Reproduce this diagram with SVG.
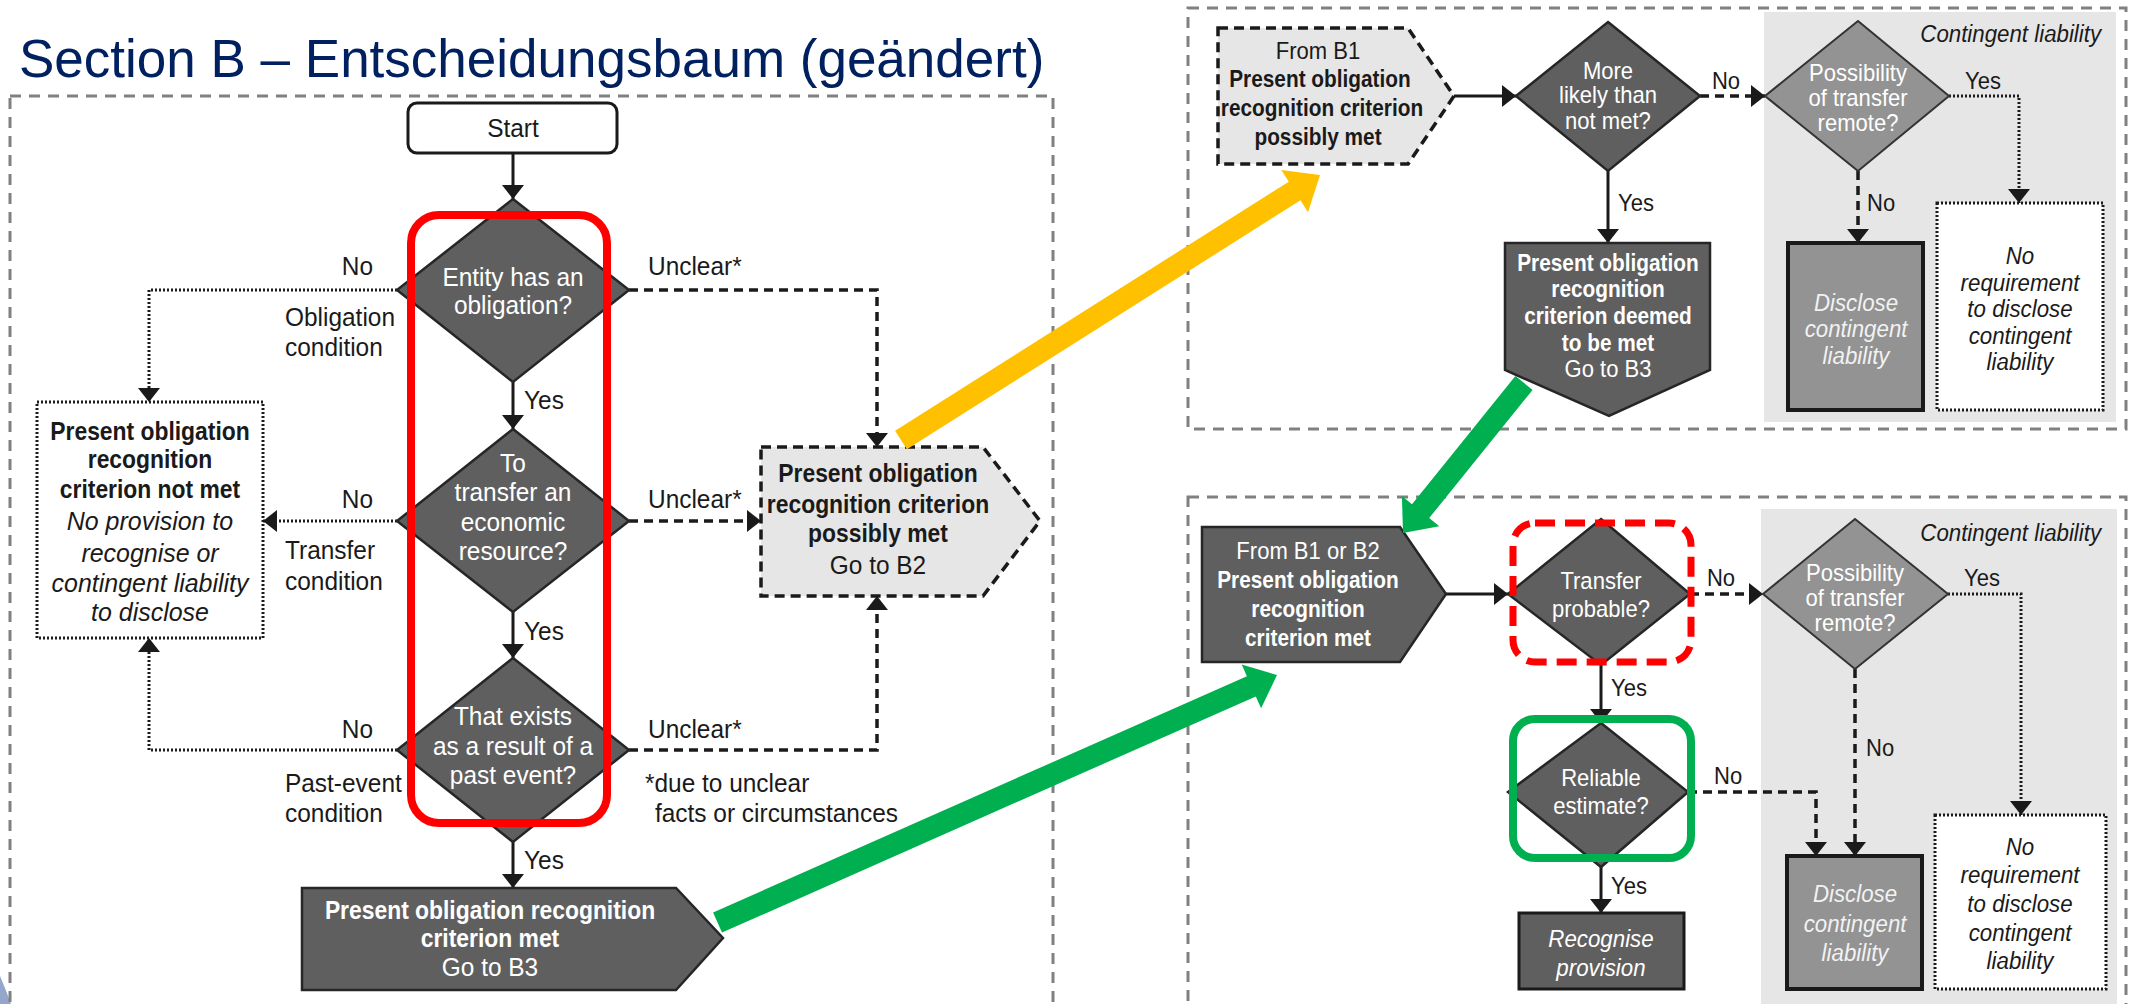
<svg xmlns="http://www.w3.org/2000/svg" width="2134" height="1004" viewBox="0 0 2134 1004">
<style>
.t{font-family:"Liberation Sans",Arial,sans-serif;font-size:26px;fill:#1a1a1a;text-anchor:middle;transform-box:fill-box;transform-origin:center;transform:scaleX(0.94)}
.b{font-weight:bold;transform:scaleX(0.88)}
.i{font-style:italic;transform:scaleX(0.96)}
.r{font-size:24.5px;transform:scaleX(0.9)}
.r.b{transform:scaleX(0.85)}
.r.i{transform:scaleX(0.91)}
.w{fill:#ffffff}
.g{fill:#f2f2f2}
.s{text-anchor:start;transform-origin:left center}
.e{text-anchor:end;transform-origin:right center}
.dark{fill:#5f5f5f;stroke:#262626;stroke-width:2.5}
.mid{fill:#939393;stroke:#333333;stroke-width:2}
.light{fill:#e6e6e6;stroke:#1a1a1a;stroke-width:3.5;stroke-dasharray:10 6}
.panel{fill:none;stroke:#808080;stroke-width:3;stroke-dasharray:11 8}
.solid{fill:none;stroke:#1a1a1a;stroke-width:3;marker-end:url(#ah)}
.dash{fill:none;stroke:#1a1a1a;stroke-width:3.5;stroke-dasharray:9 6;marker-end:url(#ah)}
.dot{fill:none;stroke:#1a1a1a;stroke-width:3;stroke-dasharray:2 2;marker-end:url(#ah)}
</style>
<defs>
<marker id="ah" markerUnits="userSpaceOnUse" markerWidth="22" markerHeight="22" refX="14" refY="11" orient="auto">
<path d="M0,0 L14,11 L0,22 z" fill="#1a1a1a"/>
</marker>
</defs>
<rect x="0" y="0" width="2134" height="1004" fill="#ffffff"/>
<text x="19" y="77" font-family="'Liberation Sans',Arial,sans-serif" font-size="53" fill="#002060">Section B – Entscheidungsbaum (geändert)</text>
<path d="M0,976 Q6,990 11,1004 L0,1004 z" fill="#94a6cc"/>

<g id="panels">
<rect class="panel" x="10" y="96" width="1043" height="930"/>
<rect class="panel" x="1188" y="8" width="938" height="421"/>
<rect class="panel" x="1188" y="497" width="938" height="530"/>
<rect x="1764" y="12" width="352" height="410" fill="#e6e6e6"/>
<rect x="1761" y="509" width="356" height="495" fill="#e6e6e6"/>
<text class="t r i e" x="2101" y="42">Contingent liability</text>
<text class="t r i e" x="2101" y="541">Contingent liability</text>
</g>

<g id="connectors">
<path class="solid" d="M513,153 V199"/>
<path class="solid" d="M513,382 V429"/>
<path class="solid" d="M513,612 V658"/>
<path class="solid" d="M513,842 V888"/>
<path class="dot" d="M397,290 H149 V402"/>
<path class="dash" d="M629,290 H877 V447"/>
<path class="dot" d="M397,521 H263"/>
<path class="dash" d="M629,521 H761"/>
<path class="dot" d="M397,750 H149 V638"/>
<path class="dash" d="M629,750 H877 V596"/>
<path class="solid" d="M1454,96 H1516"/>
<path class="dash" d="M1700,96 H1765"/>
<path class="dot" d="M1949,96 H2019 V203"/>
<path class="dash" d="M1858,171 V243"/>
<path class="solid" d="M1608,171 V243"/>
<path class="solid" d="M1446,594 H1508"/>
<path class="dash" d="M1690,594 H1763"/>
<path class="dot" d="M1948,594 H2021 V815"/>
<path class="dash" d="M1855,669 V856"/>
<path class="solid" d="M1601,665 V723"/>
<path class="dash" d="M1688,792 H1816 V856"/>
<path class="solid" d="M1601,867 V913"/>
<text class="t e" x="373" y="275">No</text>
<text class="t s" x="648" y="275">Unclear*</text>
<text class="t s" x="285" y="326">Obligation</text>
<text class="t s" x="285" y="356">condition</text>
<text class="t s" x="524" y="409">Yes</text>
<text class="t e" x="373" y="508">No</text>
<text class="t s" x="648" y="508">Unclear*</text>
<text class="t s" x="285" y="559">Transfer</text>
<text class="t s" x="285" y="590">condition</text>
<text class="t s" x="524" y="640">Yes</text>
<text class="t e" x="373" y="738">No</text>
<text class="t s" x="648" y="738">Unclear*</text>
<text class="t s" x="285" y="792">Past-event</text>
<text class="t s" x="285" y="822">condition</text>
<text class="t s" x="645" y="792">*due to unclear</text>
<text class="t s" x="655" y="822">facts or circumstances</text>
<text class="t s" x="524" y="869">Yes</text>
<text class="t r" x="1726" y="89">No</text>
<text class="t r" x="1983" y="89">Yes</text>
<text class="t r s" x="1618" y="211">Yes</text>
<text class="t r s" x="1867" y="211">No</text>
<text class="t r" x="1721" y="586">No</text>
<text class="t r" x="1982" y="586">Yes</text>
<text class="t r s" x="1611" y="696">Yes</text>
<text class="t r s" x="1714" y="784">No</text>
<text class="t r s" x="1866" y="756">No</text>
<text class="t r s" x="1611" y="894">Yes</text>
</g>

<g id="start">
<rect x="408" y="103" width="209" height="50" rx="9" fill="#ffffff" stroke="#1a1a1a" stroke-width="3"/>
<text class="t" x="513" y="137">Start</text>
</g>
<g id="d-obligation">
<polygon class="dark" points="513,199 629,290 513,382 397,290"/>
<text class="t w" x="513" y="286">Entity has an</text>
<text class="t w" x="513" y="314">obligation?</text>
</g>
<g id="d-transfer">
<polygon class="dark" points="513,429 629,521 513,612 397,521"/>
<text class="t w" x="513" y="472">To</text>
<text class="t w" x="513" y="501">transfer an</text>
<text class="t w" x="513" y="531">economic</text>
<text class="t w" x="513" y="560">resource?</text>
</g>
<g id="d-past">
<polygon class="dark" points="513,658 629,750 513,842 397,750"/>
<text class="t w" x="513" y="725">That exists</text>
<text class="t w" x="513" y="755">as a result of a</text>
<text class="t w" x="513" y="784">past event?</text>
</g>
<g id="not-met">
<rect x="37" y="402" width="226" height="236" fill="#ffffff" stroke="#1a1a1a" stroke-width="3" stroke-dasharray="2 2"/>
<text class="t b" x="150" y="440">Present obligation</text>
<text class="t b" x="150" y="468">recognition</text>
<text class="t b" x="150" y="498">criterion not met</text>
<text class="t i" x="150" y="530">No provision to</text>
<text class="t i" x="150" y="562">recognise or</text>
<text class="t i" x="150" y="592">contingent liability</text>
<text class="t i" x="150" y="621">to disclose</text>
</g>
<g id="possibly-b2">
<polygon class="light" points="761,447 983,447 1040,521 983,596 761,596"/>
<text class="t b" x="878" y="482">Present obligation</text>
<text class="t b" x="878" y="513">recognition criterion</text>
<text class="t b" x="878" y="542">possibly met</text>
<text class="t" x="878" y="574">Go to B2</text>
</g>
<g id="met-b3">
<polygon class="dark" points="302,888 676,888 723,938 676,990 302,990"/>
<text class="t b w" x="490" y="919">Present obligation recognition</text>
<text class="t b w" x="490" y="947">criterion met</text>
<text class="t w" x="490" y="976">Go to B3</text>
</g>
<rect id="red-frame" x="411" y="215" width="196" height="608" rx="28" fill="none" stroke="#ff0000" stroke-width="8"/>

<g id="from-b1">
<polygon class="light" points="1218,28 1408,28 1454,96 1408,164 1218,164"/>
<text class="t r" x="1318" y="59">From B1</text>
<text class="t r b" x="1320" y="87">Present obligation</text>
<text class="t r b" x="1322" y="116">recognition criterion</text>
<text class="t r b" x="1318" y="145">possibly met</text>
</g>
<g id="d-more-likely">
<polygon class="dark" points="1608,22 1700,96 1608,171 1516,96"/>
<text class="t r w" x="1608" y="79">More</text>
<text class="t r w" x="1608" y="103">likely than</text>
<text class="t r w" x="1608" y="129">not met?</text>
</g>
<g id="d-remote-1">
<polygon class="mid" points="1858,21 1949,96 1858,171 1765,96"/>
<text class="t r w" x="1858" y="81">Possibility</text>
<text class="t r w" x="1858" y="106">of transfer</text>
<text class="t r w" x="1858" y="131">remote?</text>
</g>
<g id="deemed-met">
<polygon class="dark" points="1505,243 1710,243 1710,370 1609,416 1505,370"/>
<text class="t r b w" x="1608" y="271">Present obligation</text>
<text class="t r b w" x="1608" y="297">recognition</text>
<text class="t r b w" x="1608" y="324">criterion deemed</text>
<text class="t r b w" x="1608" y="351">to be met</text>
<text class="t r w" x="1608" y="377">Go to B3</text>
</g>
<g id="disclose-1">
<rect x="1788" y="243" width="135" height="167" fill="#939393" stroke="#1a1a1a" stroke-width="4"/>
<text class="t r i g" x="1856" y="311">Disclose</text>
<text class="t r i g" x="1856" y="337">contingent</text>
<text class="t r i g" x="1856" y="364">liability</text>
</g>
<g id="no-req-1">
<rect x="1937" y="203" width="166" height="207" fill="#ffffff" stroke="#1a1a1a" stroke-width="3" stroke-dasharray="2 2"/>
<text class="t r i" x="2020" y="264">No</text>
<text class="t r i" x="2020" y="291">requirement</text>
<text class="t r i" x="2020" y="317">to disclose</text>
<text class="t r i" x="2020" y="344">contingent</text>
<text class="t r i" x="2020" y="370">liability</text>
</g>

<g id="from-b1-b2">
<polygon class="dark" points="1202,527 1400,527 1446,594 1400,662 1202,662"/>
<text class="t r w" x="1308" y="559">From B1 or B2</text>
<text class="t r b w" x="1308" y="588">Present obligation</text>
<text class="t r b w" x="1308" y="617">recognition</text>
<text class="t r b w" x="1308" y="646">criterion met</text>
</g>
<g id="d-probable">
<polygon class="dark" points="1601,519 1690,594 1601,665 1508,594"/>
<text class="t r w" x="1601" y="589">Transfer</text>
<text class="t r w" x="1601" y="617">probable?</text>
</g>
<g id="d-remote-2">
<polygon class="mid" points="1855,519 1948,594 1855,669 1763,594"/>
<text class="t r w" x="1855" y="581">Possibility</text>
<text class="t r w" x="1855" y="606">of transfer</text>
<text class="t r w" x="1855" y="631">remote?</text>
</g>
<g id="d-reliable">
<polygon class="dark" points="1601,723 1688,792 1601,867 1508,792"/>
<text class="t r w" x="1601" y="786">Reliable</text>
<text class="t r w" x="1601" y="814">estimate?</text>
</g>
<g id="recognise">
<rect x="1519" y="913" width="165" height="76" fill="#5f5f5f" stroke="#1a1a1a" stroke-width="3"/>
<text class="t r i w" x="1601" y="947">Recognise</text>
<text class="t r i w" x="1601" y="976">provision</text>
</g>
<g id="disclose-2">
<rect x="1787" y="856" width="135" height="133" fill="#939393" stroke="#1a1a1a" stroke-width="4"/>
<text class="t r i g" x="1855" y="902">Disclose</text>
<text class="t r i g" x="1855" y="932">contingent</text>
<text class="t r i g" x="1855" y="961">liability</text>
</g>
<g id="no-req-2">
<rect x="1935" y="815" width="171" height="174" fill="#ffffff" stroke="#1a1a1a" stroke-width="3" stroke-dasharray="2 2"/>
<text class="t r i" x="2020" y="855">No</text>
<text class="t r i" x="2020" y="883">requirement</text>
<text class="t r i" x="2020" y="912">to disclose</text>
<text class="t r i" x="2020" y="941">contingent</text>
<text class="t r i" x="2020" y="969">liability</text>
</g>
<rect id="red-dashed-frame" x="1513" y="523" width="178" height="139" rx="22" fill="none" stroke="#ff0000" stroke-width="7" stroke-dasharray="20 10"/>
<rect id="green-frame" x="1513" y="719" width="178" height="139" rx="22" fill="none" stroke="#00b050" stroke-width="8"/>

<g id="highlight-arrows">
<polygon fill="#ffc000" points="895.1,430.7 1288.8,181.7 1281.3,169.9 1320,175 1308,212.2 1300.5,200.3 906.9,449.3"/>
<polygon fill="#00b050" points="1515.4,376.1 1412,504.3 1401.9,496.1 1403,533 1439.3,526.3 1429.2,518.1 1532.6,389.9"/>
<polygon fill="#00b050" points="713.1,912.4 1246.9,676.2 1241.7,664.4 1277,675 1261.1,708.3 1255.8,696.4 722,932.6"/>
</g>
</svg>
